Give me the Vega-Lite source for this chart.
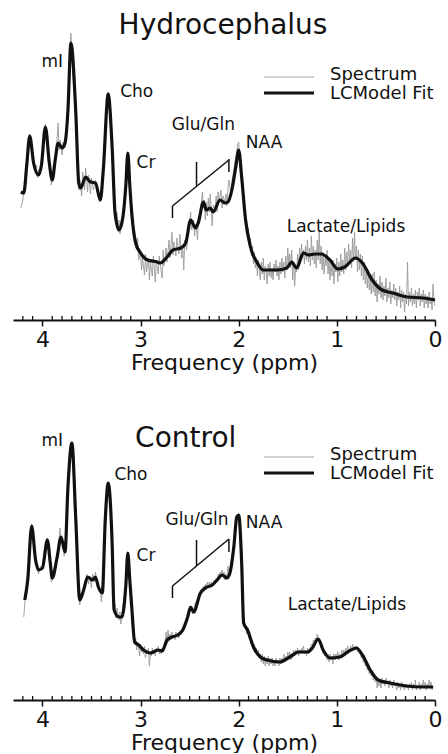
{
"$schema": "https://vega.github.io/schema/vega-lite/v6.json",
"padding": {"left": 13, "top": 0, "right": 0, "bottom": 0},
"autosize": {"type": "pad"},
"spacing": 60,
"bounds": "flush",
"config": {"view": {"stroke": null}, "font": "DejaVu Sans", "text": {"font": "DejaVu Sans"}},
"datasets": {
"Hf": [{"s":"F","x":4.22,"y":128},{"s":"F","x":4.19,"y":127},{"s":"F","x":4.16,"y":155},{"s":"F","x":4.13,"y":184},{"s":"F","x":4.09,"y":157},{"s":"F","x":4.04,"y":145},{"s":"F","x":4.01,"y":155},{"s":"F","x":3.97,"y":193},{"s":"F","x":3.93,"y":157},{"s":"F","x":3.90,"y":140},{"s":"F","x":3.87,"y":160},{"s":"F","x":3.84,"y":177},{"s":"F","x":3.80,"y":172},{"s":"F","x":3.77,"y":177},{"s":"F","x":3.74,"y":210},{"s":"F","x":3.71,"y":277},{"s":"F","x":3.66,"y":207},{"s":"F","x":3.63,"y":137},{"s":"F","x":3.61,"y":132},{"s":"F","x":3.56,"y":143},{"s":"F","x":3.51,"y":138},{"s":"F","x":3.46,"y":137},{"s":"F","x":3.41,"y":120},{"s":"F","x":3.38,"y":150},{"s":"F","x":3.33,"y":226},{"s":"F","x":3.29,"y":173},{"s":"F","x":3.26,"y":107},{"s":"F","x":3.22,"y":90},{"s":"F","x":3.18,"y":103},{"s":"F","x":3.15,"y":135},{"s":"F","x":3.13,"y":167},{"s":"F","x":3.11,"y":135},{"s":"F","x":3.09,"y":107},{"s":"F","x":3.05,"y":77},{"s":"F","x":3.00,"y":67},{"s":"F","x":2.93,"y":60},{"s":"F","x":2.83,"y":58},{"s":"F","x":2.80,"y":57},{"s":"F","x":2.73,"y":63},{"s":"F","x":2.67,"y":70},{"s":"F","x":2.59,"y":72},{"s":"F","x":2.54,"y":77},{"s":"F","x":2.49,"y":100},{"s":"F","x":2.44,"y":92},{"s":"F","x":2.41,"y":98},{"s":"F","x":2.36,"y":118},{"s":"F","x":2.33,"y":110},{"s":"F","x":2.29,"y":112},{"s":"F","x":2.26,"y":108},{"s":"F","x":2.19,"y":120},{"s":"F","x":2.14,"y":117},{"s":"F","x":2.11,"y":118},{"s":"F","x":2.07,"y":130},{"s":"F","x":2.03,"y":153},{"s":"F","x":2.00,"y":170},{"s":"F","x":1.97,"y":143},{"s":"F","x":1.93,"y":100},{"s":"F","x":1.88,"y":73},{"s":"F","x":1.81,"y":57},{"s":"F","x":1.75,"y":50},{"s":"F","x":1.61,"y":50},{"s":"F","x":1.51,"y":52},{"s":"F","x":1.46,"y":58},{"s":"F","x":1.41,"y":52},{"s":"F","x":1.34,"y":67},{"s":"F","x":1.29,"y":65},{"s":"F","x":1.22,"y":66},{"s":"F","x":1.16,"y":66},{"s":"F","x":1.07,"y":60},{"s":"F","x":0.99,"y":51},{"s":"F","x":0.92,"y":53},{"s":"F","x":0.81,"y":62},{"s":"F","x":0.74,"y":57},{"s":"F","x":0.64,"y":40},{"s":"F","x":0.54,"y":30},{"s":"F","x":0.43,"y":27},{"s":"F","x":0.28,"y":23},{"s":"F","x":0.12,"y":22},{"s":"F","x":0.00,"y":20}],
"Hs": [{"s":"S","x":4.22,"y":112},{"s":"S","x":4.20,"y":120},{"s":"S","x":4.18,"y":135},{"s":"S","x":4.16,"y":158},{"s":"S","x":4.14,"y":182},{"s":"S","x":4.13,"y":186},{"s":"S","x":4.12,"y":178},{"s":"S","x":4.10,"y":160},{"s":"S","x":4.08,"y":150},{"s":"S","x":4.06,"y":155},{"s":"S","x":4.05,"y":142},{"s":"S","x":4.04,"y":150},{"s":"S","x":4.02,"y":148},{"s":"S","x":4.00,"y":168},{"s":"S","x":3.98,"y":188},{"s":"S","x":3.97,"y":196},{"s":"S","x":3.96,"y":186},{"s":"S","x":3.94,"y":165},{"s":"S","x":3.92,"y":150},{"s":"S","x":3.91,"y":135},{"s":"S","x":3.90,"y":140},{"s":"S","x":3.88,"y":152},{"s":"S","x":3.86,"y":170},{"s":"S","x":3.84,"y":197},{"s":"S","x":3.83,"y":170},{"s":"S","x":3.82,"y":180},{"s":"S","x":3.80,"y":165},{"s":"S","x":3.79,"y":178},{"s":"S","x":3.77,"y":172},{"s":"S","x":3.75,"y":200},{"s":"S","x":3.73,"y":245},{"s":"S","x":3.71,"y":287},{"s":"S","x":3.70,"y":262},{"s":"S","x":3.68,"y":230},{"s":"S","x":3.66,"y":200},{"s":"S","x":3.64,"y":160},{"s":"S","x":3.63,"y":130},{"s":"S","x":3.62,"y":140},{"s":"S","x":3.60,"y":124},{"s":"S","x":3.59,"y":148},{"s":"S","x":3.57,"y":130},{"s":"S","x":3.56,"y":152},{"s":"S","x":3.54,"y":128},{"s":"S","x":3.53,"y":145},{"s":"S","x":3.51,"y":126},{"s":"S","x":3.50,"y":142},{"s":"S","x":3.48,"y":130},{"s":"S","x":3.46,"y":140},{"s":"S","x":3.44,"y":128},{"s":"S","x":3.42,"y":118},{"s":"S","x":3.40,"y":130},{"s":"S","x":3.38,"y":152},{"s":"S","x":3.36,"y":190},{"s":"S","x":3.34,"y":222},{"s":"S","x":3.33,"y":228},{"s":"S","x":3.32,"y":215},{"s":"S","x":3.30,"y":185},{"s":"S","x":3.28,"y":150},{"s":"S","x":3.27,"y":120},{"s":"S","x":3.26,"y":110},{"s":"S","x":3.25,"y":100},{"s":"S","x":3.24,"y":108},{"s":"S","x":3.23,"y":92},{"s":"S","x":3.22,"y":100},{"s":"S","x":3.21,"y":86},{"s":"S","x":3.20,"y":98},{"s":"S","x":3.18,"y":105},{"s":"S","x":3.16,"y":128},{"s":"S","x":3.14,"y":158},{"s":"S","x":3.13,"y":168},{"s":"S","x":3.12,"y":155},{"s":"S","x":3.10,"y":120},{"s":"S","x":3.08,"y":100},{"s":"S","x":3.06,"y":80},{"s":"S","x":3.04,"y":70},{"s":"S","x":3.03,"y":82},{"s":"S","x":3.02,"y":60},{"s":"S","x":3.00,"y":68},{"s":"S","x":2.99,"y":50},{"s":"S","x":2.98,"y":62},{"s":"S","x":2.96,"y":45},{"s":"S","x":2.95,"y":66},{"s":"S","x":2.94,"y":48},{"s":"S","x":2.92,"y":62},{"s":"S","x":2.91,"y":40},{"s":"S","x":2.90,"y":58},{"s":"S","x":2.88,"y":44},{"s":"S","x":2.87,"y":64},{"s":"S","x":2.86,"y":52},{"s":"S","x":2.85,"y":38},{"s":"S","x":2.84,"y":60},{"s":"S","x":2.82,"y":46},{"s":"S","x":2.81,"y":64},{"s":"S","x":2.80,"y":56},{"s":"S","x":2.78,"y":42},{"s":"S","x":2.77,"y":70},{"s":"S","x":2.76,"y":54},{"s":"S","x":2.74,"y":72},{"s":"S","x":2.73,"y":58},{"s":"S","x":2.71,"y":80},{"s":"S","x":2.70,"y":62},{"s":"S","x":2.68,"y":88},{"s":"S","x":2.67,"y":65},{"s":"S","x":2.66,"y":78},{"s":"S","x":2.64,"y":64},{"s":"S","x":2.63,"y":82},{"s":"S","x":2.61,"y":66},{"s":"S","x":2.60,"y":86},{"s":"S","x":2.58,"y":62},{"s":"S","x":2.57,"y":74},{"s":"S","x":2.56,"y":50},{"s":"S","x":2.55,"y":80},{"s":"S","x":2.53,"y":70},{"s":"S","x":2.52,"y":92},{"s":"S","x":2.50,"y":96},{"s":"S","x":2.49,"y":108},{"s":"S","x":2.48,"y":90},{"s":"S","x":2.46,"y":100},{"s":"S","x":2.45,"y":84},{"s":"S","x":2.44,"y":96},{"s":"S","x":2.43,"y":92},{"s":"S","x":2.42,"y":80},{"s":"S","x":2.41,"y":104},{"s":"S","x":2.40,"y":96},{"s":"S","x":2.38,"y":118},{"s":"S","x":2.37,"y":128},{"s":"S","x":2.36,"y":112},{"s":"S","x":2.35,"y":120},{"s":"S","x":2.34,"y":100},{"s":"S","x":2.33,"y":118},{"s":"S","x":2.32,"y":104},{"s":"S","x":2.31,"y":122},{"s":"S","x":2.30,"y":108},{"s":"S","x":2.29,"y":126},{"s":"S","x":2.28,"y":110},{"s":"S","x":2.27,"y":94},{"s":"S","x":2.26,"y":115},{"s":"S","x":2.24,"y":110},{"s":"S","x":2.23,"y":124},{"s":"S","x":2.22,"y":108},{"s":"S","x":2.21,"y":128},{"s":"S","x":2.20,"y":118},{"s":"S","x":2.18,"y":130},{"s":"S","x":2.17,"y":112},{"s":"S","x":2.16,"y":124},{"s":"S","x":2.14,"y":118},{"s":"S","x":2.13,"y":126},{"s":"S","x":2.12,"y":114},{"s":"S","x":2.11,"y":132},{"s":"S","x":2.10,"y":140},{"s":"S","x":2.08,"y":126},{"s":"S","x":2.07,"y":138},{"s":"S","x":2.05,"y":150},{"s":"S","x":2.04,"y":158},{"s":"S","x":2.02,"y":168},{"s":"S","x":2.01,"y":176},{"s":"S","x":2.00,"y":178},{"s":"S","x":1.99,"y":160},{"s":"S","x":1.98,"y":150},{"s":"S","x":1.96,"y":130},{"s":"S","x":1.95,"y":118},{"s":"S","x":1.94,"y":108},{"s":"S","x":1.93,"y":96},{"s":"S","x":1.92,"y":100},{"s":"S","x":1.91,"y":84},{"s":"S","x":1.90,"y":92},{"s":"S","x":1.89,"y":72},{"s":"S","x":1.88,"y":82},{"s":"S","x":1.87,"y":64},{"s":"S","x":1.86,"y":74},{"s":"S","x":1.85,"y":56},{"s":"S","x":1.84,"y":68},{"s":"S","x":1.83,"y":52},{"s":"S","x":1.82,"y":62},{"s":"S","x":1.81,"y":44},{"s":"S","x":1.80,"y":60},{"s":"S","x":1.79,"y":50},{"s":"S","x":1.78,"y":40},{"s":"S","x":1.77,"y":58},{"s":"S","x":1.76,"y":46},{"s":"S","x":1.75,"y":62},{"s":"S","x":1.74,"y":40},{"s":"S","x":1.73,"y":54},{"s":"S","x":1.72,"y":48},{"s":"S","x":1.71,"y":36},{"s":"S","x":1.70,"y":56},{"s":"S","x":1.69,"y":44},{"s":"S","x":1.68,"y":58},{"s":"S","x":1.67,"y":42},{"s":"S","x":1.66,"y":52},{"s":"S","x":1.65,"y":40},{"s":"S","x":1.64,"y":56},{"s":"S","x":1.63,"y":48},{"s":"S","x":1.62,"y":60},{"s":"S","x":1.61,"y":44},{"s":"S","x":1.60,"y":54},{"s":"S","x":1.59,"y":40},{"s":"S","x":1.58,"y":58},{"s":"S","x":1.57,"y":46},{"s":"S","x":1.56,"y":62},{"s":"S","x":1.55,"y":48},{"s":"S","x":1.54,"y":58},{"s":"S","x":1.53,"y":42},{"s":"S","x":1.52,"y":64},{"s":"S","x":1.51,"y":50},{"s":"S","x":1.50,"y":72},{"s":"S","x":1.49,"y":56},{"s":"S","x":1.48,"y":66},{"s":"S","x":1.47,"y":52},{"s":"S","x":1.46,"y":70},{"s":"S","x":1.45,"y":40},{"s":"S","x":1.44,"y":58},{"s":"S","x":1.43,"y":34},{"s":"S","x":1.42,"y":52},{"s":"S","x":1.41,"y":48},{"s":"S","x":1.40,"y":66},{"s":"S","x":1.39,"y":50},{"s":"S","x":1.38,"y":72},{"s":"S","x":1.37,"y":58},{"s":"S","x":1.36,"y":76},{"s":"S","x":1.35,"y":62},{"s":"S","x":1.34,"y":70},{"s":"S","x":1.33,"y":56},{"s":"S","x":1.32,"y":74},{"s":"S","x":1.31,"y":60},{"s":"S","x":1.30,"y":80},{"s":"S","x":1.29,"y":58},{"s":"S","x":1.28,"y":72},{"s":"S","x":1.27,"y":54},{"s":"S","x":1.26,"y":84},{"s":"S","x":1.25,"y":60},{"s":"S","x":1.24,"y":74},{"s":"S","x":1.23,"y":56},{"s":"S","x":1.22,"y":70},{"s":"S","x":1.21,"y":52},{"s":"S","x":1.20,"y":80},{"s":"S","x":1.19,"y":60},{"s":"S","x":1.18,"y":90},{"s":"S","x":1.17,"y":56},{"s":"S","x":1.16,"y":74},{"s":"S","x":1.15,"y":50},{"s":"S","x":1.14,"y":68},{"s":"S","x":1.13,"y":46},{"s":"S","x":1.12,"y":62},{"s":"S","x":1.11,"y":54},{"s":"S","x":1.10,"y":70},{"s":"S","x":1.09,"y":46},{"s":"S","x":1.08,"y":62},{"s":"S","x":1.07,"y":40},{"s":"S","x":1.06,"y":58},{"s":"S","x":1.05,"y":44},{"s":"S","x":1.04,"y":60},{"s":"S","x":1.03,"y":36},{"s":"S","x":1.02,"y":56},{"s":"S","x":1.01,"y":48},{"s":"S","x":1.00,"y":62},{"s":"S","x":0.99,"y":38},{"s":"S","x":0.98,"y":58},{"s":"S","x":0.97,"y":44},{"s":"S","x":0.96,"y":66},{"s":"S","x":0.95,"y":48},{"s":"S","x":0.94,"y":60},{"s":"S","x":0.93,"y":46},{"s":"S","x":0.92,"y":72},{"s":"S","x":0.91,"y":50},{"s":"S","x":0.90,"y":68},{"s":"S","x":0.89,"y":54},{"s":"S","x":0.88,"y":76},{"s":"S","x":0.87,"y":56},{"s":"S","x":0.86,"y":70},{"s":"S","x":0.85,"y":52},{"s":"S","x":0.84,"y":82},{"s":"S","x":0.83,"y":58},{"s":"S","x":0.82,"y":88},{"s":"S","x":0.81,"y":60},{"s":"S","x":0.80,"y":74},{"s":"S","x":0.79,"y":48},{"s":"S","x":0.78,"y":70},{"s":"S","x":0.77,"y":50},{"s":"S","x":0.76,"y":66},{"s":"S","x":0.75,"y":44},{"s":"S","x":0.74,"y":64},{"s":"S","x":0.73,"y":40},{"s":"S","x":0.72,"y":58},{"s":"S","x":0.71,"y":36},{"s":"S","x":0.70,"y":52},{"s":"S","x":0.69,"y":32},{"s":"S","x":0.68,"y":50},{"s":"S","x":0.67,"y":30},{"s":"S","x":0.66,"y":44},{"s":"S","x":0.65,"y":26},{"s":"S","x":0.64,"y":46},{"s":"S","x":0.63,"y":28},{"s":"S","x":0.62,"y":48},{"s":"S","x":0.61,"y":24},{"s":"S","x":0.60,"y":40},{"s":"S","x":0.59,"y":18},{"s":"S","x":0.58,"y":36},{"s":"S","x":0.57,"y":26},{"s":"S","x":0.56,"y":44},{"s":"S","x":0.55,"y":22},{"s":"S","x":0.54,"y":38},{"s":"S","x":0.53,"y":20},{"s":"S","x":0.52,"y":34},{"s":"S","x":0.51,"y":24},{"s":"S","x":0.50,"y":42},{"s":"S","x":0.49,"y":18},{"s":"S","x":0.48,"y":32},{"s":"S","x":0.47,"y":22},{"s":"S","x":0.46,"y":38},{"s":"S","x":0.45,"y":16},{"s":"S","x":0.44,"y":30},{"s":"S","x":0.43,"y":22},{"s":"S","x":0.42,"y":36},{"s":"S","x":0.41,"y":20},{"s":"S","x":0.40,"y":32},{"s":"S","x":0.39,"y":14},{"s":"S","x":0.38,"y":28},{"s":"S","x":0.37,"y":20},{"s":"S","x":0.36,"y":34},{"s":"S","x":0.35,"y":12},{"s":"S","x":0.34,"y":30},{"s":"S","x":0.33,"y":18},{"s":"S","x":0.32,"y":28},{"s":"S","x":0.31,"y":8},{"s":"S","x":0.30,"y":26},{"s":"S","x":0.29,"y":16},{"s":"S","x":0.28,"y":58},{"s":"S","x":0.27,"y":14},{"s":"S","x":0.26,"y":28},{"s":"S","x":0.25,"y":18},{"s":"S","x":0.24,"y":32},{"s":"S","x":0.23,"y":14},{"s":"S","x":0.22,"y":26},{"s":"S","x":0.21,"y":16},{"s":"S","x":0.20,"y":30},{"s":"S","x":0.19,"y":12},{"s":"S","x":0.18,"y":28},{"s":"S","x":0.17,"y":20},{"s":"S","x":0.16,"y":32},{"s":"S","x":0.15,"y":14},{"s":"S","x":0.14,"y":26},{"s":"S","x":0.13,"y":18},{"s":"S","x":0.12,"y":30},{"s":"S","x":0.11,"y":12},{"s":"S","x":0.10,"y":26},{"s":"S","x":0.09,"y":16},{"s":"S","x":0.08,"y":24},{"s":"S","x":0.07,"y":12},{"s":"S","x":0.06,"y":28},{"s":"S","x":0.05,"y":16},{"s":"S","x":0.04,"y":22},{"s":"S","x":0.03,"y":10},{"s":"S","x":0.02,"y":36},{"s":"S","x":0.01,"y":18},{"s":"S","x":0.00,"y":14}],
"Cf": [{"s":"F","x":4.18,"y":100},{"s":"F","x":4.15,"y":120},{"s":"F","x":4.11,"y":174},{"s":"F","x":4.07,"y":140},{"s":"F","x":4.04,"y":130},{"s":"F","x":4.00,"y":132},{"s":"F","x":3.95,"y":160},{"s":"F","x":3.92,"y":137},{"s":"F","x":3.90,"y":122},{"s":"F","x":3.85,"y":143},{"s":"F","x":3.81,"y":163},{"s":"F","x":3.77,"y":148},{"s":"F","x":3.74,"y":213},{"s":"F","x":3.70,"y":257},{"s":"F","x":3.66,"y":180},{"s":"F","x":3.62,"y":100},{"s":"F","x":3.58,"y":110},{"s":"F","x":3.54,"y":123},{"s":"F","x":3.49,"y":120},{"s":"F","x":3.46,"y":123},{"s":"F","x":3.43,"y":113},{"s":"F","x":3.39,"y":107},{"s":"F","x":3.36,"y":180},{"s":"F","x":3.33,"y":217},{"s":"F","x":3.29,"y":157},{"s":"F","x":3.27,"y":90},{"s":"F","x":3.22,"y":83},{"s":"F","x":3.19,"y":83},{"s":"F","x":3.15,"y":115},{"s":"F","x":3.13,"y":147},{"s":"F","x":3.11,"y":120},{"s":"F","x":3.09,"y":93},{"s":"F","x":3.06,"y":58},{"s":"F","x":3.02,"y":55},{"s":"F","x":2.97,"y":50},{"s":"F","x":2.90,"y":47},{"s":"F","x":2.82,"y":50},{"s":"F","x":2.78,"y":49},{"s":"F","x":2.73,"y":60},{"s":"F","x":2.68,"y":63},{"s":"F","x":2.62,"y":65},{"s":"F","x":2.57,"y":70},{"s":"F","x":2.52,"y":83},{"s":"F","x":2.49,"y":93},{"s":"F","x":2.46,"y":88},{"s":"F","x":2.39,"y":107},{"s":"F","x":2.34,"y":112},{"s":"F","x":2.27,"y":115},{"s":"F","x":2.22,"y":120},{"s":"F","x":2.17,"y":125},{"s":"F","x":2.12,"y":122},{"s":"F","x":2.09,"y":127},{"s":"F","x":2.05,"y":153},{"s":"F","x":2.02,"y":183},{"s":"F","x":2.00,"y":185},{"s":"F","x":1.97,"y":137},{"s":"F","x":1.95,"y":77},{"s":"F","x":1.91,"y":70},{"s":"F","x":1.85,"y":53},{"s":"F","x":1.78,"y":43},{"s":"F","x":1.71,"y":40},{"s":"F","x":1.58,"y":38},{"s":"F","x":1.48,"y":43},{"s":"F","x":1.39,"y":48},{"s":"F","x":1.30,"y":48},{"s":"F","x":1.25,"y":52},{"s":"F","x":1.19,"y":61},{"s":"F","x":1.14,"y":50},{"s":"F","x":1.07,"y":42},{"s":"F","x":0.97,"y":43},{"s":"F","x":0.89,"y":48},{"s":"F","x":0.80,"y":52},{"s":"F","x":0.74,"y":45},{"s":"F","x":0.66,"y":30},{"s":"F","x":0.58,"y":20},{"s":"F","x":0.46,"y":17},{"s":"F","x":0.29,"y":14},{"s":"F","x":0.12,"y":13},{"s":"F","x":0.02,"y":13}],
"Cs": [{"s":"S","x":4.19,"y":83},{"s":"S","x":4.17,"y":110},{"s":"S","x":4.15,"y":125},{"s":"S","x":4.13,"y":160},{"s":"S","x":4.11,"y":176},{"s":"S","x":4.10,"y":168},{"s":"S","x":4.08,"y":148},{"s":"S","x":4.06,"y":132},{"s":"S","x":4.05,"y":136},{"s":"S","x":4.04,"y":126},{"s":"S","x":4.02,"y":134},{"s":"S","x":4.00,"y":130},{"s":"S","x":3.98,"y":145},{"s":"S","x":3.96,"y":158},{"s":"S","x":3.95,"y":162},{"s":"S","x":3.94,"y":150},{"s":"S","x":3.92,"y":132},{"s":"S","x":3.91,"y":118},{"s":"S","x":3.90,"y":120},{"s":"S","x":3.88,"y":130},{"s":"S","x":3.86,"y":140},{"s":"S","x":3.84,"y":150},{"s":"S","x":3.82,"y":172},{"s":"S","x":3.81,"y":160},{"s":"S","x":3.79,"y":156},{"s":"S","x":3.78,"y":144},{"s":"S","x":3.77,"y":148},{"s":"S","x":3.75,"y":190},{"s":"S","x":3.73,"y":232},{"s":"S","x":3.71,"y":258},{"s":"S","x":3.70,"y":255},{"s":"S","x":3.68,"y":225},{"s":"S","x":3.66,"y":180},{"s":"S","x":3.64,"y":130},{"s":"S","x":3.62,"y":95},{"s":"S","x":3.61,"y":104},{"s":"S","x":3.59,"y":106},{"s":"S","x":3.58,"y":114},{"s":"S","x":3.56,"y":116},{"s":"S","x":3.55,"y":126},{"s":"S","x":3.53,"y":116},{"s":"S","x":3.52,"y":124},{"s":"S","x":3.50,"y":112},{"s":"S","x":3.49,"y":126},{"s":"S","x":3.47,"y":118},{"s":"S","x":3.46,"y":128},{"s":"S","x":3.44,"y":116},{"s":"S","x":3.43,"y":110},{"s":"S","x":3.41,"y":112},{"s":"S","x":3.40,"y":98},{"s":"S","x":3.39,"y":110},{"s":"S","x":3.37,"y":150},{"s":"S","x":3.35,"y":198},{"s":"S","x":3.33,"y":218},{"s":"S","x":3.32,"y":210},{"s":"S","x":3.30,"y":180},{"s":"S","x":3.29,"y":150},{"s":"S","x":3.28,"y":115},{"s":"S","x":3.27,"y":90},{"s":"S","x":3.26,"y":96},{"s":"S","x":3.25,"y":82},{"s":"S","x":3.24,"y":92},{"s":"S","x":3.22,"y":80},{"s":"S","x":3.21,"y":88},{"s":"S","x":3.20,"y":76},{"s":"S","x":3.19,"y":86},{"s":"S","x":3.17,"y":100},{"s":"S","x":3.15,"y":118},{"s":"S","x":3.14,"y":138},{"s":"S","x":3.13,"y":148},{"s":"S","x":3.12,"y":135},{"s":"S","x":3.11,"y":118},{"s":"S","x":3.10,"y":104},{"s":"S","x":3.09,"y":92},{"s":"S","x":3.07,"y":70},{"s":"S","x":3.06,"y":56},{"s":"S","x":3.05,"y":62},{"s":"S","x":3.04,"y":50},{"s":"S","x":3.03,"y":58},{"s":"S","x":3.02,"y":54},{"s":"S","x":3.01,"y":44},{"s":"S","x":3.00,"y":56},{"s":"S","x":2.99,"y":48},{"s":"S","x":2.98,"y":52},{"s":"S","x":2.97,"y":46},{"s":"S","x":2.96,"y":54},{"s":"S","x":2.95,"y":42},{"s":"S","x":2.94,"y":50},{"s":"S","x":2.93,"y":46},{"s":"S","x":2.92,"y":52},{"s":"S","x":2.91,"y":34},{"s":"S","x":2.90,"y":48},{"s":"S","x":2.89,"y":44},{"s":"S","x":2.88,"y":52},{"s":"S","x":2.87,"y":46},{"s":"S","x":2.86,"y":50},{"s":"S","x":2.85,"y":44},{"s":"S","x":2.84,"y":52},{"s":"S","x":2.83,"y":48},{"s":"S","x":2.82,"y":54},{"s":"S","x":2.81,"y":46},{"s":"S","x":2.80,"y":50},{"s":"S","x":2.79,"y":46},{"s":"S","x":2.78,"y":52},{"s":"S","x":2.77,"y":48},{"s":"S","x":2.76,"y":54},{"s":"S","x":2.75,"y":58},{"s":"S","x":2.74,"y":68},{"s":"S","x":2.73,"y":56},{"s":"S","x":2.72,"y":70},{"s":"S","x":2.71,"y":58},{"s":"S","x":2.70,"y":66},{"s":"S","x":2.69,"y":60},{"s":"S","x":2.68,"y":68},{"s":"S","x":2.67,"y":62},{"s":"S","x":2.66,"y":64},{"s":"S","x":2.65,"y":60},{"s":"S","x":2.64,"y":68},{"s":"S","x":2.63,"y":64},{"s":"S","x":2.62,"y":66},{"s":"S","x":2.61,"y":62},{"s":"S","x":2.60,"y":68},{"s":"S","x":2.59,"y":66},{"s":"S","x":2.58,"y":70},{"s":"S","x":2.57,"y":68},{"s":"S","x":2.56,"y":74},{"s":"S","x":2.55,"y":72},{"s":"S","x":2.54,"y":78},{"s":"S","x":2.53,"y":80},{"s":"S","x":2.52,"y":86},{"s":"S","x":2.51,"y":90},{"s":"S","x":2.50,"y":88},{"s":"S","x":2.49,"y":94},{"s":"S","x":2.48,"y":90},{"s":"S","x":2.47,"y":86},{"s":"S","x":2.46,"y":90},{"s":"S","x":2.45,"y":94},{"s":"S","x":2.44,"y":98},{"s":"S","x":2.43,"y":96},{"s":"S","x":2.42,"y":102},{"s":"S","x":2.41,"y":100},{"s":"S","x":2.40,"y":106},{"s":"S","x":2.39,"y":104},{"s":"S","x":2.38,"y":110},{"s":"S","x":2.37,"y":108},{"s":"S","x":2.36,"y":114},{"s":"S","x":2.35,"y":110},{"s":"S","x":2.34,"y":116},{"s":"S","x":2.33,"y":110},{"s":"S","x":2.32,"y":118},{"s":"S","x":2.31,"y":112},{"s":"S","x":2.30,"y":118},{"s":"S","x":2.29,"y":114},{"s":"S","x":2.28,"y":118},{"s":"S","x":2.27,"y":116},{"s":"S","x":2.26,"y":114},{"s":"S","x":2.25,"y":120},{"s":"S","x":2.24,"y":116},{"s":"S","x":2.23,"y":122},{"s":"S","x":2.22,"y":118},{"s":"S","x":2.21,"y":126},{"s":"S","x":2.20,"y":122},{"s":"S","x":2.19,"y":128},{"s":"S","x":2.18,"y":122},{"s":"S","x":2.17,"y":130},{"s":"S","x":2.16,"y":124},{"s":"S","x":2.15,"y":128},{"s":"S","x":2.14,"y":120},{"s":"S","x":2.13,"y":126},{"s":"S","x":2.12,"y":122},{"s":"S","x":2.11,"y":134},{"s":"S","x":2.10,"y":128},{"s":"S","x":2.09,"y":128},{"s":"S","x":2.08,"y":135},{"s":"S","x":2.07,"y":142},{"s":"S","x":2.06,"y":150},{"s":"S","x":2.05,"y":158},{"s":"S","x":2.04,"y":168},{"s":"S","x":2.03,"y":178},{"s":"S","x":2.02,"y":183},{"s":"S","x":2.01,"y":186},{"s":"S","x":2.00,"y":184},{"s":"S","x":1.99,"y":170},{"s":"S","x":1.98,"y":150},{"s":"S","x":1.97,"y":132},{"s":"S","x":1.96,"y":100},{"s":"S","x":1.95,"y":82},{"s":"S","x":1.94,"y":72},{"s":"S","x":1.93,"y":74},{"s":"S","x":1.92,"y":66},{"s":"S","x":1.91,"y":72},{"s":"S","x":1.90,"y":64},{"s":"S","x":1.89,"y":60},{"s":"S","x":1.88,"y":64},{"s":"S","x":1.87,"y":56},{"s":"S","x":1.86,"y":60},{"s":"S","x":1.85,"y":52},{"s":"S","x":1.84,"y":56},{"s":"S","x":1.83,"y":48},{"s":"S","x":1.82,"y":52},{"s":"S","x":1.81,"y":44},{"s":"S","x":1.80,"y":50},{"s":"S","x":1.79,"y":42},{"s":"S","x":1.78,"y":46},{"s":"S","x":1.77,"y":38},{"s":"S","x":1.76,"y":46},{"s":"S","x":1.75,"y":36},{"s":"S","x":1.74,"y":44},{"s":"S","x":1.73,"y":34},{"s":"S","x":1.72,"y":42},{"s":"S","x":1.71,"y":36},{"s":"S","x":1.70,"y":44},{"s":"S","x":1.69,"y":34},{"s":"S","x":1.68,"y":42},{"s":"S","x":1.67,"y":36},{"s":"S","x":1.66,"y":42},{"s":"S","x":1.65,"y":34},{"s":"S","x":1.64,"y":40},{"s":"S","x":1.63,"y":34},{"s":"S","x":1.62,"y":42},{"s":"S","x":1.61,"y":36},{"s":"S","x":1.60,"y":40},{"s":"S","x":1.59,"y":34},{"s":"S","x":1.58,"y":42},{"s":"S","x":1.57,"y":36},{"s":"S","x":1.56,"y":42},{"s":"S","x":1.55,"y":38},{"s":"S","x":1.54,"y":46},{"s":"S","x":1.53,"y":38},{"s":"S","x":1.52,"y":44},{"s":"S","x":1.51,"y":40},{"s":"S","x":1.50,"y":48},{"s":"S","x":1.49,"y":42},{"s":"S","x":1.48,"y":48},{"s":"S","x":1.47,"y":40},{"s":"S","x":1.46,"y":46},{"s":"S","x":1.45,"y":42},{"s":"S","x":1.44,"y":50},{"s":"S","x":1.43,"y":44},{"s":"S","x":1.42,"y":50},{"s":"S","x":1.41,"y":46},{"s":"S","x":1.40,"y":52},{"s":"S","x":1.39,"y":44},{"s":"S","x":1.38,"y":50},{"s":"S","x":1.37,"y":46},{"s":"S","x":1.36,"y":52},{"s":"S","x":1.35,"y":48},{"s":"S","x":1.34,"y":54},{"s":"S","x":1.33,"y":46},{"s":"S","x":1.32,"y":50},{"s":"S","x":1.31,"y":44},{"s":"S","x":1.30,"y":52},{"s":"S","x":1.29,"y":46},{"s":"S","x":1.28,"y":50},{"s":"S","x":1.27,"y":52},{"s":"S","x":1.26,"y":56},{"s":"S","x":1.25,"y":54},{"s":"S","x":1.24,"y":60},{"s":"S","x":1.23,"y":58},{"s":"S","x":1.22,"y":62},{"s":"S","x":1.21,"y":60},{"s":"S","x":1.20,"y":66},{"s":"S","x":1.19,"y":62},{"s":"S","x":1.18,"y":58},{"s":"S","x":1.17,"y":56},{"s":"S","x":1.16,"y":52},{"s":"S","x":1.15,"y":54},{"s":"S","x":1.14,"y":46},{"s":"S","x":1.13,"y":50},{"s":"S","x":1.12,"y":44},{"s":"S","x":1.11,"y":48},{"s":"S","x":1.10,"y":40},{"s":"S","x":1.09,"y":46},{"s":"S","x":1.08,"y":38},{"s":"S","x":1.07,"y":46},{"s":"S","x":1.06,"y":40},{"s":"S","x":1.05,"y":44},{"s":"S","x":1.04,"y":36},{"s":"S","x":1.03,"y":46},{"s":"S","x":1.02,"y":40},{"s":"S","x":1.01,"y":46},{"s":"S","x":1.00,"y":42},{"s":"S","x":0.99,"y":48},{"s":"S","x":0.98,"y":40},{"s":"S","x":0.97,"y":46},{"s":"S","x":0.96,"y":44},{"s":"S","x":0.95,"y":50},{"s":"S","x":0.94,"y":44},{"s":"S","x":0.93,"y":50},{"s":"S","x":0.92,"y":46},{"s":"S","x":0.91,"y":52},{"s":"S","x":0.90,"y":48},{"s":"S","x":0.89,"y":54},{"s":"S","x":0.88,"y":50},{"s":"S","x":0.87,"y":48},{"s":"S","x":0.86,"y":54},{"s":"S","x":0.85,"y":50},{"s":"S","x":0.84,"y":56},{"s":"S","x":0.83,"y":52},{"s":"S","x":0.82,"y":50},{"s":"S","x":0.81,"y":54},{"s":"S","x":0.80,"y":52},{"s":"S","x":0.79,"y":48},{"s":"S","x":0.78,"y":52},{"s":"S","x":0.77,"y":46},{"s":"S","x":0.76,"y":48},{"s":"S","x":0.75,"y":42},{"s":"S","x":0.74,"y":46},{"s":"S","x":0.73,"y":38},{"s":"S","x":0.72,"y":42},{"s":"S","x":0.71,"y":34},{"s":"S","x":0.70,"y":38},{"s":"S","x":0.69,"y":30},{"s":"S","x":0.68,"y":34},{"s":"S","x":0.67,"y":26},{"s":"S","x":0.66,"y":32},{"s":"S","x":0.65,"y":24},{"s":"S","x":0.64,"y":28},{"s":"S","x":0.63,"y":20},{"s":"S","x":0.62,"y":26},{"s":"S","x":0.61,"y":18},{"s":"S","x":0.60,"y":24},{"s":"S","x":0.59,"y":12},{"s":"S","x":0.58,"y":22},{"s":"S","x":0.57,"y":14},{"s":"S","x":0.56,"y":20},{"s":"S","x":0.55,"y":12},{"s":"S","x":0.54,"y":22},{"s":"S","x":0.53,"y":16},{"s":"S","x":0.52,"y":20},{"s":"S","x":0.51,"y":14},{"s":"S","x":0.50,"y":22},{"s":"S","x":0.49,"y":16},{"s":"S","x":0.48,"y":18},{"s":"S","x":0.47,"y":12},{"s":"S","x":0.46,"y":20},{"s":"S","x":0.45,"y":14},{"s":"S","x":0.44,"y":18},{"s":"S","x":0.43,"y":12},{"s":"S","x":0.42,"y":20},{"s":"S","x":0.41,"y":14},{"s":"S","x":0.40,"y":16},{"s":"S","x":0.39,"y":10},{"s":"S","x":0.38,"y":18},{"s":"S","x":0.37,"y":12},{"s":"S","x":0.36,"y":16},{"s":"S","x":0.35,"y":10},{"s":"S","x":0.34,"y":18},{"s":"S","x":0.33,"y":12},{"s":"S","x":0.32,"y":14},{"s":"S","x":0.31,"y":10},{"s":"S","x":0.30,"y":16},{"s":"S","x":0.29,"y":12},{"s":"S","x":0.28,"y":14},{"s":"S","x":0.27,"y":10},{"s":"S","x":0.26,"y":16},{"s":"S","x":0.25,"y":12},{"s":"S","x":0.24,"y":18},{"s":"S","x":0.23,"y":10},{"s":"S","x":0.22,"y":16},{"s":"S","x":0.21,"y":12},{"s":"S","x":0.20,"y":20},{"s":"S","x":0.19,"y":10},{"s":"S","x":0.18,"y":14},{"s":"S","x":0.17,"y":12},{"s":"S","x":0.16,"y":18},{"s":"S","x":0.15,"y":10},{"s":"S","x":0.14,"y":16},{"s":"S","x":0.13,"y":12},{"s":"S","x":0.12,"y":20},{"s":"S","x":0.11,"y":12},{"s":"S","x":0.10,"y":18},{"s":"S","x":0.09,"y":10},{"s":"S","x":0.08,"y":16},{"s":"S","x":0.07,"y":12},{"s":"S","x":0.06,"y":20},{"s":"S","x":0.05,"y":14},{"s":"S","x":0.04,"y":18},{"s":"S","x":0.03,"y":10},{"s":"S","x":0.02,"y":14}],
"Ha": [{"t":"mI","x":3.90,"y":258},{"t":"Cho","x":3.04,"y":228},{"t":"Cr","x":2.945,"y":157},{"t":"Glu/Gln","x":2.36,"y":195},{"t":"NAA","x":1.742,"y":177},{"t":"Lactate/Lipids","x":0.907,"y":93}],
"Ca": [{"t":"mI","x":3.90,"y":259},{"t":"Cho","x":3.098,"y":225},{"t":"Cr","x":2.945,"y":144},{"t":"Glu/Gln","x":2.425,"y":180},{"t":"NAA","x":1.742,"y":177},{"t":"Lactate/Lipids","x":0.897,"y":95}],
"Ht": [{"t":"Hydrocephalus","x":2.16,"y":294}],
"Ct": [{"t":"Control","x":2.54,"y":261}],
"Hb": [{"x":2.675,"y":102,"x2":2.675,"y2":114},{"x":2.675,"y":114,"x2":2.10,"y2":160},{"x":2.43,"y":134,"x2":2.43,"y2":158},{"x":2.10,"y":148,"x2":2.10,"y2":161}],
"Cb": [{"x":2.675,"y":102,"x2":2.675,"y2":114},{"x":2.675,"y":114,"x2":2.10,"y2":161},{"x":2.43,"y":134,"x2":2.43,"y2":160},{"x":2.10,"y":148,"x2":2.10,"y2":161}],
"leg": [{"s":"S","t":"Spectrum","x":1.742,"x2":1.233,"xt":1.07,"y":243,"yt":245},{"s":"F","t":"LCModel Fit","x":1.742,"x2":1.233,"xt":1.07,"y":227,"yt":226}],
"mt": [{"x":0.1},{"x":0.2},{"x":0.3},{"x":0.4},{"x":0.5},{"x":0.6},{"x":0.7},{"x":0.8},{"x":0.9},{"x":1.1},{"x":1.2},{"x":1.3},{"x":1.4},{"x":1.5},{"x":1.6},{"x":1.7},{"x":1.8},{"x":1.9},{"x":2.1},{"x":2.2},{"x":2.3},{"x":2.4},{"x":2.5},{"x":2.6},{"x":2.7},{"x":2.8},{"x":2.9},{"x":3.1},{"x":3.2},{"x":3.3},{"x":3.4},{"x":3.5},{"x":3.6},{"x":3.7},{"x":3.8},{"x":3.9},{"x":4.1},{"x":4.2}]
},
"vconcat": [
{
"width": 422, "height": 320,
"layer": [
{"data": {"name": "Hs"}, "mark": {"type": "line", "interpolate": "linear"},
 "encoding": {
  "x": {"field": "x", "type": "quantitative", "scale": {"domain": [0, 4.3], "reverse": true, "nice": false, "zero": false},
   "axis": {"values": [0, 1, 2, 3, 4], "format": "d", "grid": false, "tickSize": 6, "tickWidth": 1.5, "tickColor": "#111", "domainColor": "#111", "domainWidth": 2, "labelFontSize": 22, "labelFont": "DejaVu Sans", "labelColor": "#111", "labelPadding": 3, "labelFlush": false, "title": "Frequency (ppm)", "titleFont": "DejaVu Sans", "titleFontSize": 22, "titleFontWeight": "normal", "titleColor": "#111", "titlePadding": 2}},
  "y": {"field": "y", "type": "quantitative", "scale": {"domain": [0, 320], "nice": false}, "axis": null},
  "color": {"field": "s", "type": "nominal", "scale": {"domain": ["S", "F"], "range": ["#9a9a9a", "#111111"]}, "legend": null},
  "strokeWidth": {"field": "s", "type": "nominal", "scale": {"domain": ["S", "F"], "range": [0.9, 3.2]}, "legend": null}
 }},
{"data": {"name": "Hf"}, "mark": {"type": "line", "interpolate": "monotone", "strokeJoin": "round"},
 "encoding": {
  "x": {"field": "x", "type": "quantitative"},
  "y": {"field": "y", "type": "quantitative"},
  "color": {"field": "s", "type": "nominal", "legend": null},
  "strokeWidth": {"field": "s", "type": "nominal", "legend": null}
 }},
{"data": {"name": "mt"}, "mark": {"type": "rule", "color": "#111", "strokeWidth": 1.3},
 "encoding": {"x": {"field": "x", "type": "quantitative"}, "y": {"datum": 0}, "y2": {"datum": 4}}},
{"data": {"name": "Hb"}, "mark": {"type": "rule", "color": "#111", "strokeWidth": 1.5},
 "encoding": {"x": {"field": "x", "type": "quantitative"}, "x2": {"field": "x2"}, "y": {"field": "y", "type": "quantitative"}, "y2": {"field": "y2"}}},
{"data": {"name": "leg"}, "mark": {"type": "rule"},
 "encoding": {"x": {"field": "x", "type": "quantitative"}, "x2": {"field": "x2"}, "y": {"field": "y", "type": "quantitative"},
  "color": {"field": "s", "type": "nominal", "legend": null}, "strokeWidth": {"field": "s", "type": "nominal", "legend": null}}},
{"data": {"name": "leg"}, "mark": {"type": "text", "align": "left", "baseline": "middle", "fontSize": 18, "color": "#111"},
 "encoding": {"x": {"field": "xt", "type": "quantitative"}, "y": {"field": "yt", "type": "quantitative"}, "text": {"field": "t"}}},
{"data": {"name": "Ha"}, "mark": {"type": "text", "align": "center", "baseline": "middle", "fontSize": 17, "color": "#111"},
 "encoding": {"x": {"field": "x", "type": "quantitative"}, "y": {"field": "y", "type": "quantitative"}, "text": {"field": "t"}}},
{"data": {"name": "Ht"}, "mark": {"type": "text", "align": "center", "baseline": "middle", "fontSize": 28, "color": "#111"},
 "encoding": {"x": {"field": "x", "type": "quantitative"}, "y": {"field": "y", "type": "quantitative"}, "text": {"field": "t"}}}
]
},
{
"width": 422, "height": 320,
"layer": [
{"data": {"name": "Cs"}, "mark": {"type": "line", "interpolate": "linear"},
 "encoding": {
  "x": {"field": "x", "type": "quantitative", "scale": {"domain": [0, 4.3], "reverse": true, "nice": false, "zero": false},
   "axis": {"values": [0, 1, 2, 3, 4], "format": "d", "grid": false, "tickSize": 6, "tickWidth": 1.5, "tickColor": "#111", "domainColor": "#111", "domainWidth": 2, "labelFontSize": 22, "labelFont": "DejaVu Sans", "labelColor": "#111", "labelPadding": 3, "labelFlush": false, "title": "Frequency (ppm)", "titleFont": "DejaVu Sans", "titleFontSize": 22, "titleFontWeight": "normal", "titleColor": "#111", "titlePadding": 2}},
  "y": {"field": "y", "type": "quantitative", "scale": {"domain": [0, 320], "nice": false}, "axis": null},
  "color": {"field": "s", "type": "nominal", "scale": {"domain": ["S", "F"], "range": ["#9a9a9a", "#111111"]}, "legend": null},
  "strokeWidth": {"field": "s", "type": "nominal", "scale": {"domain": ["S", "F"], "range": [0.9, 3.2]}, "legend": null}
 }},
{"data": {"name": "Cf"}, "mark": {"type": "line", "interpolate": "monotone", "strokeJoin": "round"},
 "encoding": {
  "x": {"field": "x", "type": "quantitative"},
  "y": {"field": "y", "type": "quantitative"},
  "color": {"field": "s", "type": "nominal", "legend": null},
  "strokeWidth": {"field": "s", "type": "nominal", "legend": null}
 }},
{"data": {"name": "mt"}, "mark": {"type": "rule", "color": "#111", "strokeWidth": 1.3},
 "encoding": {"x": {"field": "x", "type": "quantitative"}, "y": {"datum": 0}, "y2": {"datum": 4}}},
{"data": {"name": "Cb"}, "mark": {"type": "rule", "color": "#111", "strokeWidth": 1.5},
 "encoding": {"x": {"field": "x", "type": "quantitative"}, "x2": {"field": "x2"}, "y": {"field": "y", "type": "quantitative"}, "y2": {"field": "y2"}}},
{"data": {"name": "leg"}, "mark": {"type": "rule"},
 "encoding": {"x": {"field": "x", "type": "quantitative"}, "x2": {"field": "x2"}, "y": {"field": "y", "type": "quantitative"},
  "color": {"field": "s", "type": "nominal", "legend": null}, "strokeWidth": {"field": "s", "type": "nominal", "legend": null}}},
{"data": {"name": "leg"}, "mark": {"type": "text", "align": "left", "baseline": "middle", "fontSize": 18, "color": "#111"},
 "encoding": {"x": {"field": "xt", "type": "quantitative"}, "y": {"field": "yt", "type": "quantitative"}, "text": {"field": "t"}}},
{"data": {"name": "Ca"}, "mark": {"type": "text", "align": "center", "baseline": "middle", "fontSize": 17, "color": "#111"},
 "encoding": {"x": {"field": "x", "type": "quantitative"}, "y": {"field": "y", "type": "quantitative"}, "text": {"field": "t"}}},
{"data": {"name": "Ct"}, "mark": {"type": "text", "align": "center", "baseline": "middle", "fontSize": 28, "color": "#111"},
 "encoding": {"x": {"field": "x", "type": "quantitative"}, "y": {"field": "y", "type": "quantitative"}, "text": {"field": "t"}}}
]
}
]
}
